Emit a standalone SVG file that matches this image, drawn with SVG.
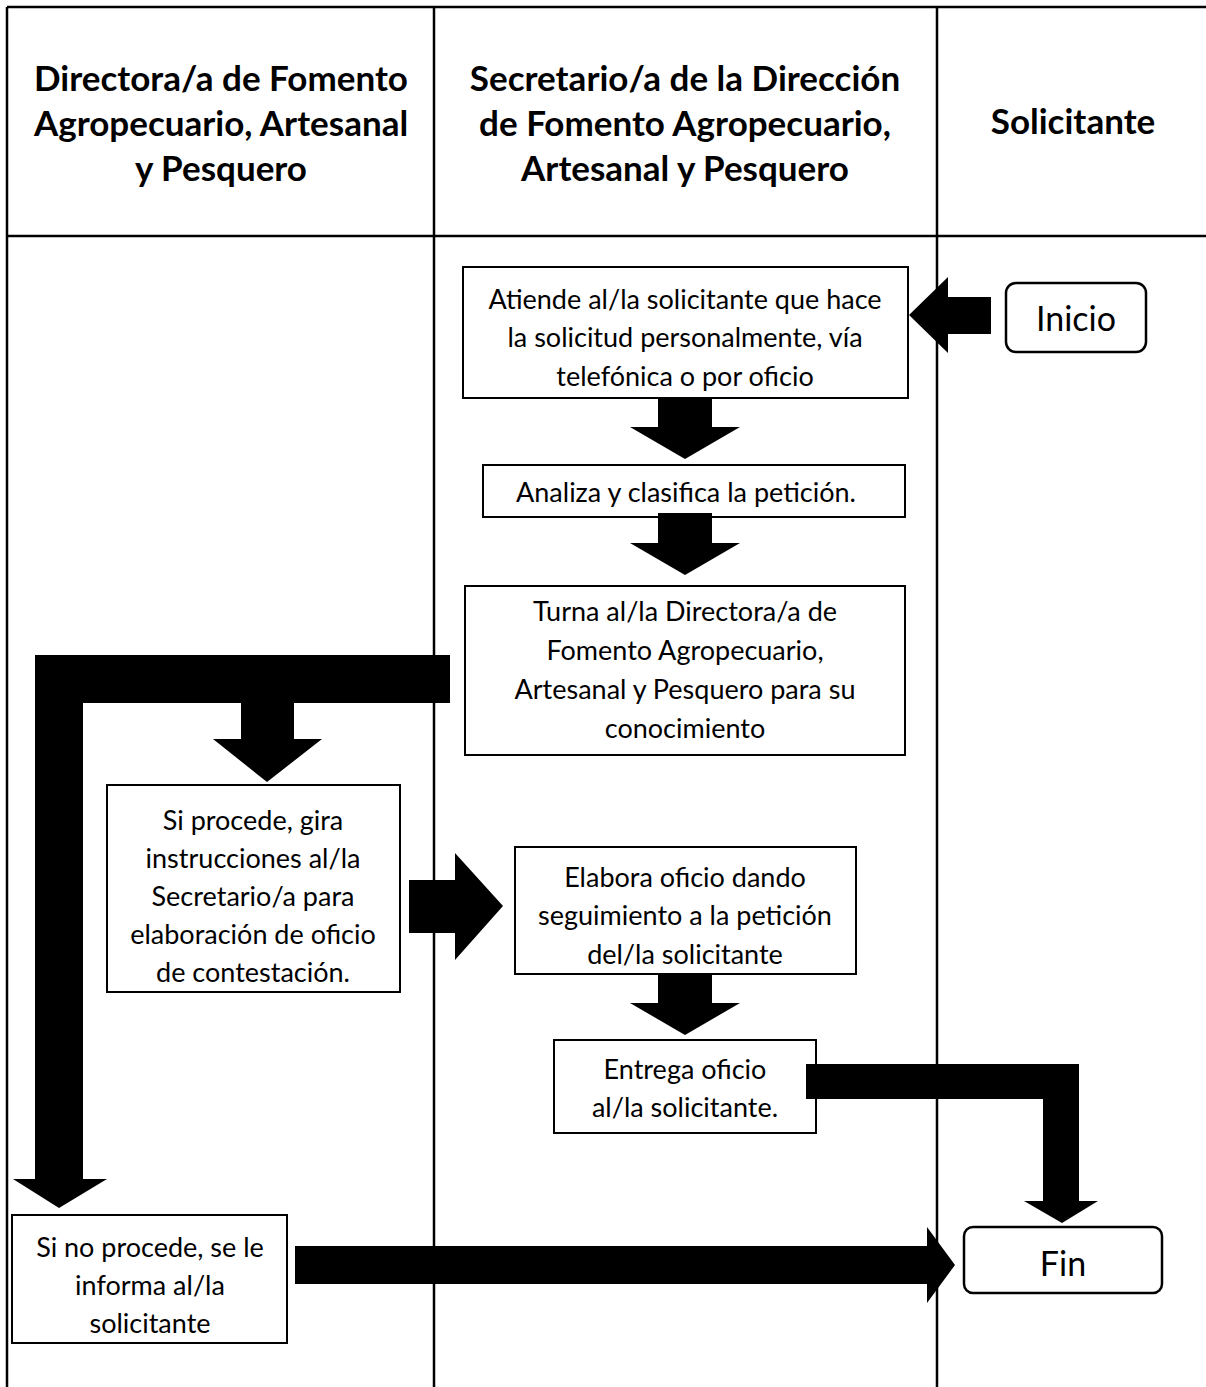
<svg xmlns="http://www.w3.org/2000/svg" width="1206" height="1387" viewBox="0 0 1206 1387">
  <style>
    .grid { stroke: #000; stroke-width: 2.5; fill: none; }
    .box { fill: #fff; stroke: #000; stroke-width: 2; }
    .term { fill: #fff; stroke: #000; stroke-width: 2.5; }
    .head { font-family: Lato, "Liberation Sans", sans-serif; font-weight: bold; font-size: 35px; text-anchor: middle; fill: #000; }
    .txt { font-family: Lato, "Liberation Sans", sans-serif; font-size: 27px; text-anchor: middle; fill: #000; }
    .big { font-family: Lato, "Liberation Sans", sans-serif; font-size: 34px; text-anchor: middle; fill: #000; }
    .arrow { fill: #000; stroke: none; }
  </style>
  <rect width="1206" height="1387" fill="#fff"/>

  <!-- swimlane table -->
  <g id="lanes">
    <path class="grid" d="M7 7 H1206 M7 236 H1206 M7 7 V1387 M434 7 V1387 M937 7 V1387"/>
    <g id="lane-directora">
      <text class="head" x="221" y="91">Directora/a de Fomento</text>
      <text class="head" x="221" y="136">Agropecuario, Artesanal</text>
      <text class="head" x="221" y="181">y Pesquero</text>
    </g>
    <g id="lane-secretario">
      <text class="head" x="685" y="91">Secretario/a de la Dirección</text>
      <text class="head" x="685" y="136">de Fomento Agropecuario,</text>
      <text class="head" x="685" y="181">Artesanal y Pesquero</text>
    </g>
    <g id="lane-solicitante">
      <text class="head" x="1073" y="134">Solicitante</text>
    </g>
  </g>

  <!-- process nodes -->
  <g id="inicio">
    <rect class="term" x="1006" y="283" width="140" height="69" rx="10"/>
    <text class="big" x="1076" y="331">Inicio</text>
  </g>
  <g id="atiende">
    <rect class="box" x="463" y="267" width="445" height="131"/>
    <text class="txt" x="685" y="309">Atiende al/la solicitante que hace</text>
    <text class="txt" x="685" y="347">la solicitud personalmente, vía</text>
    <text class="txt" x="685" y="386">telefónica o por oficio</text>
  </g>
  <g id="analiza">
    <rect class="box" x="483" y="465" width="422" height="52"/>
    <text class="txt" x="686" y="502">Analiza y clasifica la petición.</text>
  </g>
  <g id="turna">
    <rect class="box" x="465" y="586" width="440" height="169"/>
    <text class="txt" x="685" y="621">Turna al/la Directora/a de</text>
    <text class="txt" x="685" y="660">Fomento Agropecuario,</text>
    <text class="txt" x="685" y="699">Artesanal y Pesquero para su</text>
    <text class="txt" x="685" y="738">conocimiento</text>
  </g>
  <g id="si-procede">
    <rect class="box" x="107" y="785" width="293" height="207"/>
    <text class="txt" x="253" y="830">Si procede, gira</text>
    <text class="txt" x="253" y="868">instrucciones al/la</text>
    <text class="txt" x="253" y="906">Secretario/a para</text>
    <text class="txt" x="253" y="944">elaboración de oficio</text>
    <text class="txt" x="253" y="982">de contestación.</text>
  </g>
  <g id="elabora">
    <rect class="box" x="515" y="847" width="341" height="127"/>
    <text class="txt" x="685" y="887">Elabora oficio dando</text>
    <text class="txt" x="685" y="925">seguimiento a la petición</text>
    <text class="txt" x="685" y="964">del/la solicitante</text>
  </g>
  <g id="entrega">
    <rect class="box" x="554" y="1040" width="262" height="93"/>
    <text class="txt" x="685" y="1079">Entrega oficio</text>
    <text class="txt" x="685" y="1117">al/la solicitante.</text>
  </g>
  <g id="no-procede">
    <rect class="box" x="12" y="1215" width="275" height="128"/>
    <text class="txt" x="150" y="1257">Si no procede, se le</text>
    <text class="txt" x="150" y="1295">informa al/la</text>
    <text class="txt" x="150" y="1333">solicitante</text>
  </g>
  <g id="fin">
    <rect class="term" x="964" y="1227" width="198" height="66" rx="9"/>
    <text class="big" x="1063" y="1276">Fin</text>
  </g>

  <!-- block arrows -->
  <g id="connectors">
    <!-- Inicio to Atiende -->
    <polygon class="arrow" points="991,297 948,297 948,277 909,315 948,353 948,334 991,334"/>
    <!-- Atiende to Analiza -->
    <polygon class="arrow" points="658,398 712,398 712,427 740,427 685,459 630,427 658,427"/>
    <!-- Analiza to Turna -->
    <polygon class="arrow" points="658,513 712,513 712,543 740,543 685,575 630,543 658,543"/>
    <!-- Turna to Directora: bent split arrow -->
    <polygon class="arrow" points="450,655 35,655 35,1179 13,1179 59,1208 107,1179 83,1179 83,703 241,703 241,739 213,739 267,782 322,739 294,739 294,703 450,703"/>
    <!-- Si procede to Elabora -->
    <polygon class="arrow" points="409,880 455,880 455,853 503,906 455,960 455,933 409,933"/>
    <!-- Elabora to Entrega -->
    <polygon class="arrow" points="658,974 712,974 712,1003 740,1003 685,1035 630,1003 658,1003"/>
    <!-- Entrega to Fin -->
    <polygon class="arrow" points="806,1064 1079,1064 1079,1201 1098,1201 1062,1223 1024,1201 1043,1201 1043,1099 806,1099"/>
    <!-- Si no procede to Fin -->
    <polygon class="arrow" points="295,1246 927,1246 927,1227 955,1265 927,1303 927,1284 295,1284"/>
  </g>
</svg>
